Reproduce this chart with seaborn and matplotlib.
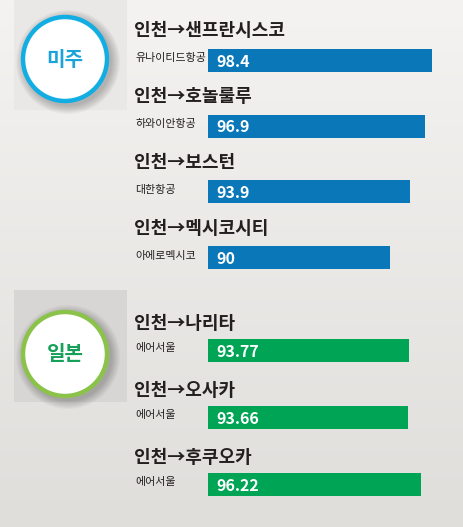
import numpy as np
import pandas as pd
import matplotlib
matplotlib.use("Agg")
import matplotlib.pyplot as plt
import matplotlib.transforms as mtransforms
from matplotlib.patches import Circle, Rectangle
import seaborn as sns

# ---- data ----
region_names = ["미주", "일본"]
us_routes = ["인천→샌프란시스코", "인천→호놀룰루", "인천→보스턴", "인천→멕시코시티"]
us_airlines = ["유나이티드항공", "하와이안항공", "대한항공", "아에로멕시코"]
us_values = [98.4, 96.9, 93.9, 90]
us_labels = ["98.4", "96.9", "93.9", "90"]
jp_routes = ["인천→나리타", "인천→오사카", "인천→후쿠오카"]
jp_airlines = ["에어서울", "에어서울", "에어서울"]
jp_values = [93.77, 93.66, 96.22]
jp_labels = ["93.77", "93.66", "96.22"]

sns.set_theme(style="white")
plt.rcParams['font.family'] = ['Noto Sans CJK KR', 'DejaVu Sans']

W, H = 463, 527
fig = plt.figure(figsize=(W / 100, H / 100), dpi=100)

# background gradient
bg = fig.add_axes([0, 0, 1, 1], zorder=0)
grad = np.linspace(0, 1, 256)[:, None]
top = np.array([0xf4, 0xf3, 0xf1]) / 255
bot = np.array([0xdf, 0xde, 0xdb]) / 255
img = top[None, None, :] * (1 - grad[:, :, None]) + bot[None, None, :] * grad[:, :, None]
bg.imshow(img, aspect="auto", extent=[0, 1, 0, 1])
bg.set_axis_off()

# decoration layer in pixel coords
deco = fig.add_axes([0, 0, 1, 1], zorder=1)
deco.set_xlim(0, W)
deco.set_ylim(H, 0)
deco.set_axis_off()
deco.patch.set_alpha(0)

def badge(cy, sq_top, sq_bot, sq_color, ring, txtcol, name):
    deco.add_patch(Rectangle((14, sq_top), 113, sq_bot - sq_top, color=sq_color, lw=0))
    for i in range(10):
        deco.add_patch(Circle((68, cy + 3), 44 + i * 0.9, color="black", alpha=0.025, lw=0))
    deco.add_patch(Circle((65, cy), 42, facecolor="white", edgecolor=ring, lw=3.2))
    deco.text(65, cy, name, ha="center", va="center", fontsize=14.5,
              fontweight="bold", color=txtcol)

badge(59, 0, 110, "#e9e8e6", "#12ade3", "#1ba4da", region_names[0])
badge(354, 290, 402, "#d7d6d4", "#8bc34a", "#16a05a", region_names[1])

XMIN, SCALE = 53.66, 5.01
XMAX = XMIN + (W - 208) / SCALE

def group(values, routes, airlines, labels, top_px, bot_px, color, title_off, bw):
    ax = fig.add_axes([208 / W, 1 - bot_px / H, (W - 208) / W, (bot_px - top_px) / H], zorder=2)
    df = pd.DataFrame({"route": routes, "value": values})
    sns.barplot(data=df, x="value", y="route", orient="h", color=color,
                saturation=1, width=bw, linewidth=0, edgecolor=color, ax=ax)
    ax.set_xlim(XMIN, XMAX)
    ax.set_axis_off()
    ax.patch.set_alpha(0)
    trans = mtransforms.blended_transform_factory(deco.transData, ax.transData)
    for i, (r, a, lab) in enumerate(zip(routes, airlines, labels)):
        ax.text(134, i - title_off, r, transform=trans, ha="left", va="center",
                fontsize=13, fontweight="bold", color="#231f20", clip_on=False)
        ax.text(135, i - 0.03, a, transform=trans, ha="left", va="center",
                fontsize=7.9, color="#231f20", clip_on=False)
        ax.text(216, i + 0.02, lab, transform=trans, ha="left", va="center",
                fontsize=11.5, fontweight="bold", color="white", clip_on=False)
    return ax

group(us_values, us_routes, us_airlines, us_labels, 27.5, 290.5, "#0a78b8", 0.45, 0.35)
group(jp_values, jp_routes, jp_airlines, jp_labels, 317, 518, "#00a455", 0.40, 0.34)

fig.savefig("out.png", dpi=100)
